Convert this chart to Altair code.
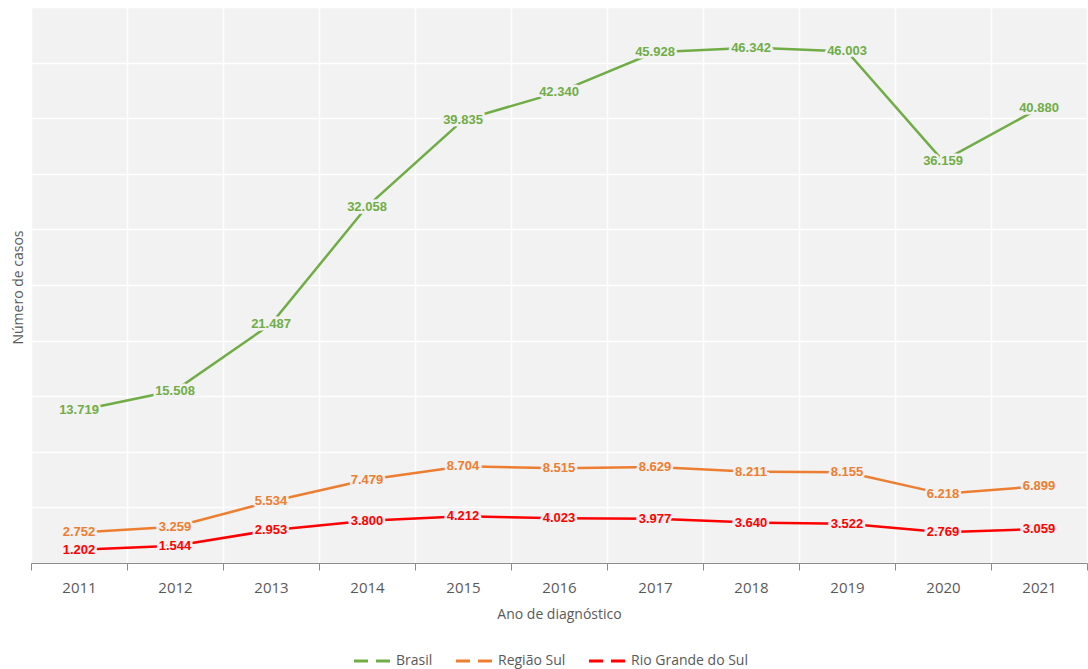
import altair as alt
import pandas as pd

# Casos por ano de diagnóstico
anos = ["2011", "2012", "2013", "2014", "2015", "2016", "2017", "2018", "2019", "2020", "2021"]
brasil = [13719, 15508, 21487, 32058, 39835, 42340, 45928, 46342, 46003, 36159, 40880]
regiao_sul = [2752, 3259, 5534, 7479, 8704, 8515, 8629, 8211, 8155, 6218, 6899]
rio_grande_do_sul = [1202, 1544, 2953, 3800, 4212, 4023, 3977, 3640, 3522, 2769, 3059]

series = ["Brasil", "Região Sul", "Rio Grande do Sul"]
cores = ["#70AD47", "#ED7D31", "#FF0000"]

rows = []
for nome, valores in zip(series, [brasil, regiao_sul, rio_grande_do_sul]):
    for ano, v in zip(anos, valores):
        rows.append({"ano": ano, "serie": nome, "casos": v,
                     "rotulo": f"{v:,}".replace(",", ".")})
df = pd.DataFrame(rows)

fonte = "Open Sans"
cinza = "#595959"

x = alt.X("ano:O", title="Ano de diagnóstico", bandPosition=0.5,
          scale=alt.Scale(type="band", paddingInner=0, paddingOuter=0),
          axis=alt.Axis(labelAngle=0, tickBand="extent", grid=True, gridColor="white",
                        gridWidth=1.5, tickColor="#8c8c8c", tickSize=7, domainColor="#8c8c8c",
                        domainWidth=1, labelFont=fonte, labelFontSize=15, labelColor=cinza,
                        labelPadding=10, titleFont=fonte, titleFontSize=14,
                        titleFontWeight="normal", titleColor=cinza, titlePadding=12))
y = alt.Y("casos:Q", title="Número de casos",
          scale=alt.Scale(domain=[0, 50000], nice=False),
          axis=alt.Axis(values=list(range(0, 50001, 5000)), labels=False, ticks=False,
                        domain=False, gridColor="white", gridWidth=1.5,
                        titleFont=fonte, titleFontSize=14, titleFontWeight="normal",
                        titleColor=cinza, titleX=-6, titleY=280, titleAngle=-90))
cor = alt.Color("serie:N", title=None,
                scale=alt.Scale(domain=series, range=cores),
                legend=alt.Legend(orient="none", direction="horizontal", legendX=321,
                                  legendY=634, symbolType="stroke", symbolSize=1300,
                                  symbolStrokeWidth=3, symbolDash=[14, 8, 14],
                                  labelFont=fonte, labelFontSize=14, labelColor=cinza,
                                  columnPadding=16, labelOffset=4))

base = alt.Chart(df).encode(x=x, y=y)

linhas = base.mark_line(strokeWidth=2.5).encode(color=cor)

halo = base.mark_text(font="Liberation Sans", fontWeight="bold", fontSize=13,
                      stroke="#f2f2f2", strokeWidth=5, color="#f2f2f2").encode(text="rotulo:N")

rotulos = base.mark_text(font="Liberation Sans", fontWeight="bold", fontSize=13).encode(
    text="rotulo:N",
    color=alt.Color("serie:N", scale=alt.Scale(domain=series, range=cores), legend=None),
)

chart = (
    alt.layer(linhas, halo, rotulos)
    .properties(width=1056, height=556, background="white",
                padding={"left": 31, "top": 7, "right": 1, "bottom": 106},
                autosize=alt.AutoSizeParams(type="none"))
    .configure_view(fill="#f2f2f2", stroke=None)
)

chart.save("out.html", embed_options={"renderer": "svg", "actions": False})
